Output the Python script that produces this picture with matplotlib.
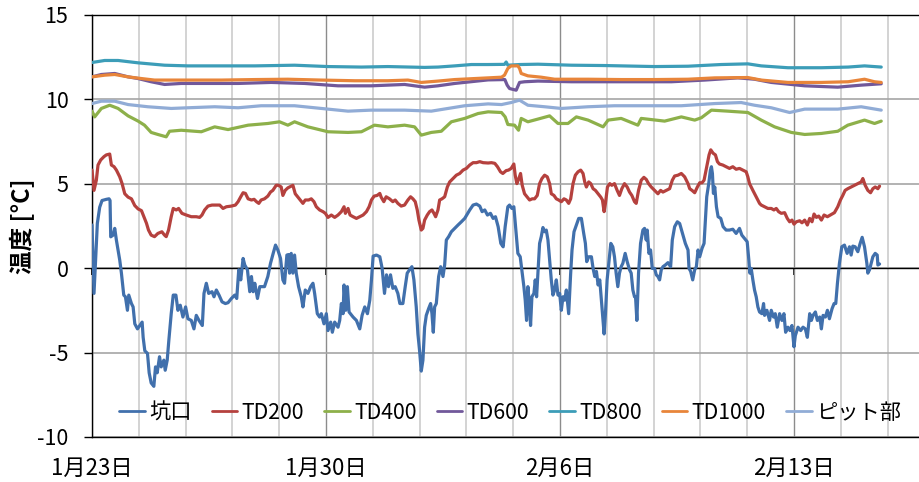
import matplotlib
matplotlib.use("Agg")
import matplotlib.pyplot as plt
from matplotlib.ticker import MultipleLocator

plt.rcParams['font.family'] = ['Noto Sans CJK JP', 'DejaVu Sans']

# time axis: days since 1/23 00:00
DATE_TICKS = [0, 7, 14, 21]
DATE_LABELS = ["1月23日", "1月30日", "2月6日", "2月13日"]
Y_TICKS = [-10, -5, 0, 5, 10, 15]
Y_LABELS = ["-10", "-5", "0", "5", "10", "15"]
SERIES_NAMES = ["坑口", "TD200", "TD400", "TD600", "TD800", "TD1000", "ピット部"]
COLORS = ["#4170AC", "#B5413E", "#8DB04A", "#71589A", "#3C9DB8", "#E8853A", "#91ACD6"]

# 坑口 (pit mouth)
kou = [
    (0, 2.55), (0.06, -1.5), (0.16, 2.65), (0.23, 3.6), (0.30, 4.0), (0.43, 4.07), (0.51, 4.1),
    (0.54, 4.0), (0.56, 1.85), (0.63, 1.95), (0.68, 2.35), (0.73, 1.65), (0.83, 0.47), (0.88, -0.3),
    (0.95, -1.6), (1.0, -1.7), (1.06, -2.5), (1.1, -1.6), (1.18, -2.1), (1.23, -2.3), (1.28, -3.3),
    (1.36, -3.6), (1.43, -3.4), (1.5, -3.2), (1.53, -4.1), (1.58, -4.9), (1.66, -5.05), (1.71, -6.2),
    (1.77, -6.8), (1.85, -7.0), (1.90, -5.85), (1.95, -6.2), (2.02, -5.25), (2.07, -5.85), (2.15, -5.45),
    (2.19, -6.05), (2.25, -5.45), (2.30, -4.25), (2.37, -2.7), (2.43, -1.6), (2.51, -1.6), (2.57, -2.5),
    (2.64, -2.2), (2.72, -2.9), (2.80, -2.3), (2.87, -3.0), (2.97, -3.1), (3.05, -3.6), (3.12, -2.8),
    (3.20, -3.1), (3.30, -3.4), (3.35, -1.5), (3.42, -0.9), (3.49, -1.5), (3.59, -1.4), (3.65, -1.7),
    (3.72, -1.3), (3.80, -1.6), (3.89, -2.0), (3.99, -2.1), (4.07, -2.05), (4.17, -1.8), (4.27, -1.6),
    (4.33, -1.8), (4.39, -0.1), (4.45, -0.7), (4.52, 0.57), (4.57, 0.18), (4.65, -0.1), (4.72, -1.4),
    (4.77, -0.5), (4.82, -1.4), (4.87, -0.9), (4.95, -1.8), (5.02, -1.1), (5.06, -1.1), (5.16, -1.1),
    (5.26, -0.5), (5.34, 0.28), (5.42, 0.87), (5.49, 1.36), (5.56, 1.07), (5.64, 0.57), (5.71, -0.7),
    (5.76, -0.9), (5.83, 0.77), (5.88, 0.8), (5.91, -0.3), (5.96, 0.87), (6.01, -0.3), (6.06, 0.77),
    (6.11, -0.3), (6.18, -1.1), (6.26, -1.7), (6.31, -2.3), (6.38, -1.3), (6.46, -1.5), (6.54, -1.1),
    (6.61, -0.9), (6.66, -1.5), (6.74, -2.7), (6.81, -2.9), (6.86, -2.7), (6.94, -3.3), (7.01, -2.7),
    (7.06, -3.7), (7.14, -3.2), (7.19, -3.8), (7.26, -3.2), (7.36, -3.5), (7.41, -3.1), (7.46, -2.1),
    (7.51, -2.7), (7.54, -1.0), (7.59, -2.5), (7.64, -1.1), (7.69, -2.6), (7.81, -2.9), (7.91, -3.1),
    (8.01, -3.6), (8.08, -2.8), (8.16, -2.3), (8.24, -2.7), (8.31, -1.9), (8.36, -0.7), (8.41, 0.71),
    (8.51, 0.77), (8.61, 0.67), (8.68, -0.02), (8.75, -1.5), (8.81, -0.4), (8.87, -1.1), (8.93, -0.4),
    (9.0, -1.2), (9.07, -1.1), (9.15, -1.5), (9.21, -2.1), (9.30, -2.1), (9.37, -1.1), (9.43, -0.3),
    (9.50, -0.1), (9.57, 0.08), (9.63, -0.7), (9.70, -2.3), (9.75, -3.9), (9.80, -4.9), (9.85, -6.1),
    (9.90, -5.45), (9.95, -3.5), (10.0, -2.8), (10.07, -2.4), (10.13, -2.1), (10.17, -2.7), (10.21, -3.8),
    (10.25, -2.3), (10.30, -2.1), (10.37, -0.5), (10.43, 0.08), (10.50, -0.5), (10.55, 0.18), (10.60, 1.66),
    (10.67, 1.86), (10.75, 2.15), (10.85, 2.35), (10.95, 2.55), (11.05, 2.74), (11.15, 2.94), (11.30, 3.44),
    (11.40, 3.73), (11.50, 3.79), (11.60, 3.67), (11.67, 3.34), (11.75, 3.44), (11.83, 3.14), (11.92, 3.24),
    (12.0, 2.94), (12.07, 3.04), (12.15, 2.45), (12.23, 1.46), (12.30, 1.26), (12.36, 2.45), (12.44, 3.63),
    (12.49, 3.73), (12.56, 3.53), (12.62, 3.63), (12.67, 2.45), (12.74, 0.87), (12.81, 0.67), (12.87, -0.3),
    (12.92, -1.1), (12.96, -1.9), (13.0, -3.1), (13.04, -1.1), (13.09, -2.3), (13.12, -3.4), (13.16, -1.7),
    (13.22, -1.5), (13.26, -0.7), (13.30, -1.7), (13.34, -0.3), (13.39, 1.46), (13.44, 1.86), (13.49, 2.4),
    (13.54, 2.15), (13.59, 2.25), (13.64, 1.66), (13.69, 0.47), (13.74, -0.7), (13.79, -1.6), (13.84, -1.3),
    (13.89, -0.7), (13.94, -1.6), (13.99, -1.5), (14.04, -2.5), (14.09, -1.7), (14.14, -1.9), (14.19, -1.3),
    (14.26, -2.7), (14.32, -0.3), (14.36, 1.07), (14.42, 2.15), (14.49, 2.55), (14.56, 2.94), (14.64, 2.94),
    (14.71, 2.05), (14.76, 1.46), (14.80, 0.38), (14.86, 0.67), (14.94, 0.67), (14.99, -0.02), (15.04, -0.5),
    (15.09, -0.2), (15.14, -1.0), (15.19, -0.7), (15.24, -1.9), (15.29, -3.1), (15.32, -3.9), (15.36, -2.7),
    (15.41, -0.7), (15.46, 0.28), (15.52, 1.46), (15.58, 1.26), (15.63, 0.67), (15.68, -0.3), (15.73, -1.1),
    (15.78, -0.3), (15.83, 0.08), (15.88, 0.28), (15.95, 0.87), (16.01, 0.38), (16.08, -0.1), (16.13, -0.3),
    (16.18, -1.3), (16.23, -1.7), (16.26, -1.7), (16.30, -3.1), (16.35, -0.3), (16.41, 1.46), (16.48, 2.25),
    (16.53, 2.35), (16.58, 1.66), (16.61, 2.25), (16.66, 0.87), (16.71, 1.07), (16.76, -0.02), (16.83, -0.02),
    (16.88, -0.4), (16.93, -0.5), (16.98, -0.7), (17.03, -0.1), (17.08, 0.08), (17.15, 0.18), (17.23, 0.32),
    (17.31, 0.08), (17.36, 1.66), (17.43, 2.45), (17.51, 2.74), (17.58, 2.64), (17.68, 1.95), (17.75, 1.46),
    (17.83, 1.07), (17.86, -0.02), (17.91, -0.2), (17.97, -0.7), (18.03, -0.1), (18.08, 0.08), (18.13, 1.07),
    (18.18, 0.67), (18.25, 1.17), (18.31, 1.46), (18.35, 2.84), (18.39, 4.22), (18.45, 5.0), (18.50, 5.8),
    (18.53, 6.0), (18.56, 5.6), (18.59, 4.42), (18.63, 4.8), (18.68, 3.63), (18.73, 3.04), (18.81, 2.94),
    (18.88, 2.45), (18.97, 2.25), (19.07, 2.25), (19.17, 2.3), (19.27, 2.05), (19.37, 2.35), (19.44, 1.95),
    (19.52, 1.76), (19.60, 1.56), (19.65, 0.47), (19.68, -0.3), (19.72, -0.02), (19.77, -0.7), (19.82, -1.3),
    (19.87, -1.7), (19.92, -2.3), (19.97, -2.6), (20.04, -2.7), (20.09, -2.1), (20.12, -2.8), (20.19, -2.5),
    (20.27, -3.1), (20.32, -2.5), (20.39, -2.9), (20.44, -2.7), (20.50, -3.5), (20.57, -2.7), (20.64, -3.1),
    (20.70, -2.7), (20.75, -3.8), (20.82, -3.5), (20.88, -3.7), (20.94, -3.4), (21.0, -4.66), (21.04, -4.0),
    (21.12, -3.5), (21.20, -3.7), (21.27, -3.5), (21.34, -3.6), (21.40, -4.1), (21.47, -2.7), (21.52, -3.1),
    (21.57, -2.8), (21.64, -2.6), (21.70, -3.1), (21.77, -2.9), (21.82, -3.6), (21.87, -2.8), (21.94, -2.9),
    (22.0, -2.5), (22.06, -3.0), (22.14, -2.4), (22.20, -2.1), (22.25, -2.1), (22.30, -0.9), (22.36, 0.28),
    (22.43, 1.26), (22.51, 1.36), (22.59, 0.87), (22.66, 1.26), (22.71, 0.77), (22.76, 1.3), (22.83, 1.26),
    (22.91, 0.97), (22.98, 1.46), (23.04, 1.82), (23.11, 1.26), (23.18, 0.28), (23.21, -0.3), (23.26, -0.1),
    (23.31, 0.28), (23.36, 0.67), (23.43, 0.87), (23.49, 0.77), (23.51, 0.18), (23.56, 0.24),
]

td200 = [
    (0, 5.8), (0.06, 4.6), (0.13, 5.2), (0.18, 6.1), (0.26, 6.4), (0.36, 6.6), (0.43, 6.7), (0.53, 6.75),
    (0.58, 6.1), (0.66, 6.0), (0.73, 5.8), (0.83, 5.4), (0.90, 5.0), (0.98, 4.4), (1.08, 4.2), (1.18, 4.1),
    (1.28, 3.7), (1.38, 3.5), (1.48, 3.4), (1.56, 3.0), (1.63, 2.65), (1.69, 2.25), (1.77, 1.95), (1.87, 1.86),
    (1.97, 2.05), (2.09, 2.15), (2.17, 1.95), (2.22, 1.86), (2.29, 2.25), (2.37, 3.04), (2.43, 3.53),
    (2.52, 3.44), (2.59, 3.53), (2.69, 3.24), (2.82, 3.14), (2.97, 3.04), (3.12, 3.04), (3.22, 3.0),
    (3.29, 3.14), (3.37, 3.44), (3.47, 3.67), (3.59, 3.73), (3.72, 3.73), (3.82, 3.73), (3.92, 3.53),
    (4.02, 3.63), (4.17, 3.67), (4.29, 3.73), (4.37, 3.93), (4.45, 4.22), (4.52, 4.46), (4.59, 4.42),
    (4.67, 4.1), (4.77, 4.03), (4.85, 4.07), (4.92, 3.93), (4.99, 3.83), (5.06, 4.03), (5.16, 4.1),
    (5.26, 4.26), (5.34, 4.5), (5.41, 4.6), (5.51, 4.9), (5.58, 4.9), (5.66, 4.8), (5.71, 4.3), (5.78, 4.6),
    (5.86, 4.75), (6.01, 4.9), (6.08, 4.4), (6.16, 4.2), (6.24, 4.0), (6.31, 3.83), (6.38, 4.03), (6.48, 4.03),
    (6.56, 4.1), (6.64, 3.93), (6.71, 3.63), (6.81, 3.44), (6.91, 3.34), (6.98, 3.24), (7.06, 3.0), (7.16, 3.14),
    (7.26, 3.0), (7.36, 3.14), (7.46, 3.34), (7.54, 3.63), (7.58, 3.24), (7.66, 3.53), (7.72, 3.14), (7.81, 3.04),
    (7.91, 2.94), (8.01, 3.04), (8.11, 3.14), (8.21, 3.34), (8.29, 3.63), (8.36, 4.03), (8.44, 4.26), (8.53, 4.3),
    (8.61, 4.42), (8.65, 4.2), (8.73, 3.93), (8.80, 4.22), (8.90, 4.1), (9.0, 3.93), (9.07, 4.03), (9.15, 3.83),
    (9.25, 3.67), (9.35, 3.73), (9.45, 4.03), (9.53, 4.22), (9.60, 4.1), (9.67, 3.93), (9.73, 3.44), (9.78, 2.84),
    (9.85, 2.25), (9.90, 2.35), (9.95, 2.84), (10.03, 3.14), (10.10, 3.34), (10.17, 3.44), (10.23, 3.24),
    (10.28, 3.04), (10.35, 3.44), (10.40, 4.03), (10.47, 4.1), (10.55, 4.22), (10.63, 4.8), (10.70, 5.1),
    (10.80, 5.3), (10.90, 5.5), (11.0, 5.6), (11.10, 5.8), (11.20, 5.9), (11.30, 6.1), (11.40, 6.24),
    (11.50, 6.24), (11.60, 6.3), (11.70, 6.24), (11.85, 6.22), (11.95, 6.24), (12.05, 6.2), (12.13, 6.0),
    (12.22, 5.7), (12.29, 5.6), (12.39, 5.77), (12.46, 5.8), (12.54, 5.9), (12.62, 6.16), (12.66, 5.5),
    (12.71, 5.0), (12.77, 5.3), (12.82, 5.6), (12.87, 4.9), (12.94, 4.4), (13.02, 4.2), (13.09, 4.03),
    (13.17, 4.1), (13.24, 4.1), (13.32, 4.3), (13.39, 5.0), (13.46, 5.3), (13.54, 5.5), (13.62, 5.4),
    (13.69, 5.0), (13.74, 4.4), (13.82, 4.3), (13.89, 4.1), (13.96, 4.03), (14.04, 3.93), (14.12, 4.1),
    (14.19, 4.03), (14.26, 3.83), (14.32, 4.1), (14.39, 5.0), (14.46, 5.5), (14.54, 5.7), (14.62, 5.8),
    (14.69, 5.6), (14.74, 5.1), (14.79, 4.8), (14.86, 5.1), (14.92, 5.0), (14.99, 4.7), (15.06, 4.6),
    (15.14, 4.4), (15.22, 4.2), (15.27, 4.03), (15.32, 3.34), (15.36, 3.83), (15.42, 4.8), (15.49, 5.0),
    (15.55, 4.9), (15.63, 5.0), (15.71, 4.6), (15.78, 4.3), (15.85, 4.7), (15.93, 5.0), (16.01, 4.8),
    (16.08, 4.5), (16.15, 4.3), (16.23, 3.93), (16.28, 3.83), (16.35, 4.6), (16.43, 5.2), (16.51, 5.37),
    (16.58, 5.25), (16.65, 5.0), (16.73, 4.8), (16.83, 4.6), (16.93, 4.4), (17.01, 4.6), (17.08, 4.5),
    (17.18, 4.6), (17.28, 4.7), (17.36, 5.2), (17.43, 5.45), (17.53, 5.5), (17.63, 5.6), (17.73, 5.4),
    (17.83, 5.0), (17.88, 4.7), (17.95, 4.6), (18.03, 4.46), (18.11, 4.8), (18.18, 5.05), (18.25, 5.05),
    (18.31, 5.2), (18.35, 5.6), (18.41, 6.2), (18.46, 6.7), (18.51, 7.0), (18.58, 6.8), (18.65, 6.7),
    (18.71, 6.3), (18.77, 6.16), (18.87, 6.1), (18.97, 6.0), (19.07, 5.9), (19.17, 6.0), (19.27, 5.85),
    (19.37, 5.9), (19.47, 5.8), (19.57, 5.7), (19.62, 5.4), (19.67, 5.0), (19.77, 4.6), (19.87, 4.22),
    (19.97, 3.83), (20.02, 3.73), (20.12, 3.63), (20.22, 3.53), (20.32, 3.53), (20.40, 3.44), (20.47, 3.53),
    (20.54, 3.34), (20.62, 3.24), (20.72, 3.28), (20.80, 2.94), (20.87, 2.74), (20.94, 2.84), (21.0, 2.6),
    (21.07, 2.74), (21.17, 2.8), (21.24, 2.68), (21.32, 2.84), (21.40, 2.55), (21.47, 2.94), (21.54, 2.74),
    (21.60, 3.2), (21.67, 3.0), (21.74, 3.08), (21.82, 2.84), (21.90, 3.14), (22.0, 3.04), (22.09, 3.14),
    (22.21, 3.28), (22.31, 3.63), (22.39, 4.03), (22.46, 4.3), (22.53, 4.6), (22.61, 4.7), (22.71, 4.8),
    (22.81, 4.9), (22.91, 5.0), (23.01, 5.1), (23.06, 5.3), (23.13, 4.9), (23.21, 4.6), (23.29, 4.46),
    (23.36, 4.7), (23.43, 4.8), (23.51, 4.7), (23.56, 4.85),
]

td400 = [
    (0, 9.29), (0.08, 8.95), (0.28, 9.45), (0.53, 9.64), (0.78, 9.45), (1.08, 9.01), (1.38, 8.7),
    (1.57, 8.46), (1.77, 8.03), (1.97, 7.91), (2.22, 7.77), (2.32, 8.1), (2.67, 8.16), (3.27, 8.07),
    (3.67, 8.36), (4.07, 8.2), (4.67, 8.46), (5.26, 8.56), (5.61, 8.66), (5.86, 8.46), (6.06, 8.66),
    (6.46, 8.36), (7.06, 8.07), (7.66, 8.03), (8.06, 8.07), (8.45, 8.46), (8.85, 8.36), (9.35, 8.46),
    (9.65, 8.36), (9.85, 7.87), (10.15, 8.03), (10.45, 8.1), (10.75, 8.66), (11.15, 8.86), (11.55, 9.15),
    (11.85, 9.25), (12.25, 9.21), (12.36, 8.95), (12.44, 8.5), (12.64, 8.46), (12.76, 8.16), (12.84, 8.86),
    (13.04, 8.66), (13.34, 8.82), (13.69, 9.01), (13.94, 8.56), (14.24, 8.56), (14.49, 8.95), (14.84, 8.76),
    (15.29, 8.36), (15.44, 8.76), (15.83, 8.86), (16.33, 8.46), (16.43, 8.86), (17.13, 8.7), (17.63, 8.95),
    (18.03, 8.76), (18.23, 8.9), (18.53, 9.35), (19.02, 9.29), (19.62, 9.21), (20.02, 8.76), (20.42, 8.36),
    (20.92, 8.03), (21.32, 7.91), (21.82, 7.97), (22.31, 8.1), (22.61, 8.46), (23.11, 8.76), (23.41, 8.56),
    (23.61, 8.7),
]

td600 = [
    (0, 11.32), (0.28, 11.46), (0.68, 11.52), (1.08, 11.32), (1.38, 11.22), (1.77, 11.03), (2.17, 10.87),
    (2.67, 10.93), (3.37, 10.93), (4.37, 10.93), (5.36, 10.99), (6.36, 10.93), (7.36, 10.79), (8.35, 10.79),
    (9.35, 10.87), (9.95, 10.71), (10.35, 10.79), (10.85, 10.93), (11.85, 11.14), (12.35, 11.16),
    (12.42, 10.83), (12.49, 10.63), (12.69, 10.53), (12.79, 10.99), (12.94, 11.03), (13.34, 11.07),
    (14.34, 11.03), (15.34, 11.03), (16.33, 11.03), (17.33, 11.03), (18.33, 11.13), (19.32, 11.26),
    (19.82, 11.18), (20.32, 10.99), (21.32, 10.79), (22.31, 10.71), (23.01, 10.83), (23.61, 10.91),
]

td800 = [
    (0, 12.17), (0.38, 12.29), (0.78, 12.29), (1.38, 12.15), (2.17, 12.01), (2.87, 11.97), (3.87, 11.97),
    (4.87, 11.97), (6.06, 12.01), (7.06, 11.93), (8.06, 11.9), (8.85, 11.93), (9.95, 11.88), (10.35, 11.9),
    (10.85, 11.97), (11.35, 12.05), (11.85, 12.05), (12.34, 12.06), (12.39, 12.2), (12.44, 12.01),
    (12.79, 12.05), (13.34, 12.07), (14.34, 12.01), (15.34, 11.99), (16.83, 11.93), (17.83, 11.95),
    (18.82, 12.05), (19.62, 12.09), (20.02, 11.97), (20.82, 11.86), (21.82, 11.86), (22.62, 11.9),
    (23.11, 11.97), (23.61, 11.9),
]

td1000 = [
    (0, 11.32), (0.38, 11.42), (0.68, 11.46), (1.08, 11.32), (1.48, 11.22), (1.87, 11.13), (2.87, 11.13),
    (3.87, 11.13), (4.87, 11.16), (5.86, 11.18), (6.86, 11.13), (7.86, 11.09), (8.85, 11.09), (9.45, 11.13),
    (9.85, 10.99), (10.35, 11.07), (10.85, 11.16), (11.85, 11.26), (12.25, 11.3), (12.34, 11.42),
    (12.44, 11.82), (12.54, 11.97), (12.74, 11.97), (12.79, 11.82), (12.84, 11.52), (13.04, 11.38),
    (13.44, 11.3), (13.84, 11.18), (14.84, 11.18), (15.83, 11.16), (16.83, 11.16), (17.83, 11.18),
    (18.63, 11.26), (19.62, 11.28), (20.02, 11.13), (20.82, 10.99), (21.82, 10.99), (22.62, 11.03),
    (23.11, 11.18), (23.41, 11.03), (23.61, 10.99),
]

pit = [
    (0, 9.74), (0.28, 9.88), (0.68, 9.88), (1.08, 9.68), (1.67, 9.55), (2.37, 9.45), (2.87, 9.49),
    (3.67, 9.55), (4.37, 9.49), (5.06, 9.61), (6.06, 9.61), (6.86, 9.45), (7.66, 9.29), (8.35, 9.35),
    (9.35, 9.35), (10.15, 9.29), (10.65, 9.45), (11.15, 9.61), (11.85, 9.72), (12.25, 9.68), (12.54, 9.8),
    (12.79, 9.94), (13.04, 9.64), (13.54, 9.55), (14.04, 9.45), (14.84, 9.55), (15.63, 9.61), (16.63, 9.61),
    (17.63, 9.61), (18.63, 9.74), (19.42, 9.8), (19.82, 9.64), (20.32, 9.49), (20.87, 9.21), (21.32, 9.41),
    (22.31, 9.41), (23.01, 9.55), (23.61, 9.35),
]

SERIES = [kou, td200, td400, td600, td800, td1000, pit]

fig = plt.figure(figsize=(9.2, 4.82), dpi=100)
ax = fig.add_axes([0.1, 0.0934, 0.9, 0.8761])

for i, (name, data, col) in enumerate(zip(SERIES_NAMES, SERIES, COLORS)):
    xs = [p[0] for p in data]
    ys = [p[1] for p in data]
    ax.plot(xs, ys, color=col, lw=2.3, label=name, zorder=3 + i,
            solid_joinstyle="round", solid_capstyle="round")

ax.set_xlim(0, 24.77)
ax.set_ylim(-10, 15)

# grid: horizontal every 5, vertical minor every 1.4 d, major every 7 d
ax.set_yticks(Y_TICKS)
ax.set_yticklabels(Y_LABELS)
ax.set_xticks(DATE_TICKS)
ax.set_xticklabels(DATE_LABELS)
ax.xaxis.set_minor_locator(MultipleLocator(1.4))
ax.grid(which="major", axis="y", color="#A6A6A6", lw=1.2, zorder=0)
ax.grid(which="minor", axis="x", color="#CCCCCC", lw=1.2, zorder=0)
ax.grid(which="major", axis="x", color="#8C8C8C", lw=1.0, zorder=0)
ax.set_axisbelow(True)
ax.axhline(0, color="black", lw=1.0, zorder=2)

# tick marks on the zero line
zero_ax = ax.secondary_xaxis(0.4)
zero_ax.set_xticks(DATE_TICKS)
zero_ax.set_xticklabels([])
zero_ax.tick_params(direction="out", length=5, width=1.2, color="black")
zero_ax.spines["bottom"].set_visible(False)

for side in ("left", "top", "bottom"):
    ax.spines[side].set_color("black")
    ax.spines[side].set_linewidth(1.0)
ax.spines["right"].set_visible(False)

ax.tick_params(axis="x", which="both", length=0, pad=14, labelsize=16)
ax.tick_params(axis="y", length=6, width=1.0, pad=11, labelsize=15.5)

ax.set_ylabel("温度 [°C]", fontsize=17, fontweight="bold")
ax.yaxis.set_label_coords(-0.069, 0.5)

leg = ax.legend(loc="center", bbox_to_anchor=(0.505, 0.057), ncol=7, frameon=False,
                fontsize=15.3, handlelength=1.2, handletextpad=0.2, columnspacing=0.95,
                borderaxespad=0)
for h in leg.get_lines():
    h.set_linewidth(2.0)

fig.savefig("out.png", dpi=100)
